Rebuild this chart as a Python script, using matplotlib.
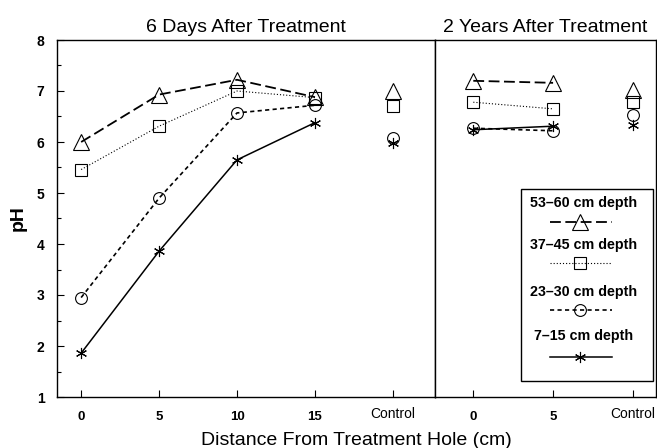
import matplotlib
matplotlib.use("Agg")
import matplotlib.pyplot as plt
from matplotlib.lines import Line2D
from matplotlib.patches import Rectangle
from matplotlib.ticker import MultipleLocator

plt.rcParams['font.family'] = ['Liberation Sans', 'DejaVu Sans']

# ---- data ----
days_labels = ['0', '5', '10', '15', 'Control']
years_labels = ['0', '5', 'Control']
series_names = ['53\u201360 cm depth', '37\u201345 cm depth', '23\u201330 cm depth', '7\u201315 cm depth']

days_53_60 = [6.00, 6.93, 7.22, 6.88, 7.00]
days_37_45 = [5.46, 6.31, 7.00, 6.87, 6.70]
days_23_30 = [2.95, 4.90, 6.57, 6.72, 6.07]
days_7_15 = [1.86, 3.86, 5.65, 6.38, 5.99]

years_53_60 = [7.20, 7.16, 7.02]
years_37_45 = [6.78, 6.65, 6.78]
years_23_30 = [6.27, 6.22, 6.53]
years_7_15 = [6.24, 6.31, 6.33]

# ---- styles ----
ASTER = (6, 2, 0)
styles = [
    dict(marker='^', ms=11.5, ls=(0, (6, 2.5)), lw=1.3),
    dict(marker='s', ms=8.5, ls=(0, (1, 1.8)), lw=0.8),
    dict(marker='o', ms=8.5, ls=(0, (2.5, 2)), lw=1.2),
    dict(marker=ASTER, ms=8, ls='-', lw=1.1),
]

fig = plt.figure(figsize=(6.57, 4.48), dpi=100)
H = 448.0
W = 657.0
bot = 1 - 397 / H
top = 1 - 40 / H
axL = fig.add_axes([57 / W, bot, (435 - 57) / W, top - bot])
axR = fig.add_axes([435 / W, bot, (656 - 435) / W, top - bot])

def draw(ax, labels, series):
    xs = list(range(len(labels)))
    for vals, st in zip(series, styles):
        ax.plot(xs[:-1], vals[:-1], color='black', linestyle=st['ls'], lw=st['lw'],
                marker=st['marker'], ms=st['ms'], mfc='none', mec='black', mew=0.8)
        ax.plot(xs[-1:], vals[-1:], color='black', linestyle='none',
                marker=st['marker'], ms=st['ms'], mfc='none', mec='black', mew=0.8)
    ax.set_xticks(xs)
    ax.set_xticklabels(labels)
    for t in ax.get_xticklabels():
        if t.get_text() == 'Control':
            t.set_fontsize(10)
            t.set_fontweight('normal')
            t.set_y(0.012)
        else:
            t.set_fontsize(9.5)
            t.set_fontweight('bold')
    ax.tick_params(axis='x', direction='in', length=5, width=0.8, pad=10)
    ax.set_ylim(1, 8)
    for s in ax.spines.values():
        s.set_linewidth(1.0)

draw(axL, days_labels, [days_53_60, days_37_45, days_23_30, days_7_15])
draw(axR, years_labels, [years_53_60, years_37_45, years_23_30, years_7_15])

axL.set_xlim(-0.31, 4.54)
axR.set_xlim(-0.48, 2.29)

axL.yaxis.set_major_locator(MultipleLocator(1))
axL.yaxis.set_minor_locator(MultipleLocator(0.5))
axL.tick_params(axis='y', which='major', direction='in', length=5, width=0.8, pad=9, labelsize=10)
axL.tick_params(axis='y', which='minor', direction='in', length=3, width=0.8)
for t in axL.get_yticklabels():
    t.set_fontweight('bold')
axR.set_yticks([])

axL.set_title('6 Days After Treatment', fontsize=14, pad=6)
axR.set_title('2 Years After Treatment', fontsize=14, pad=6)
axL.set_ylabel('pH', fontsize=14, fontweight='bold')
axL.yaxis.set_label_coords(-0.079, 0.5)
fig.text((57 + 656) / 2 / W, 1 - 440 / H, 'Distance From Treatment Hole (cm)',
         ha='center', va='center', fontsize=14)

# ---- custom legend ----
axR.add_patch(Rectangle((0.39, 0.045), 0.596, 0.538, transform=axR.transAxes,
                        fill=False, edgecolor='black', lw=1.0, zorder=5))
text_y = [0.543, 0.426, 0.294, 0.171]
samp_y = [0.490, 0.375, 0.244, 0.112]
for name, st, ty, sy in zip(series_names, styles, text_y, samp_y):
    axR.text(0.67, ty, name, transform=axR.transAxes, ha='center', va='center',
             fontsize=10.3, fontweight='bold')
    axR.add_line(Line2D([0.52, 0.80], [sy, sy], transform=axR.transAxes, color='black',
                        linestyle=st['ls'], lw=st['lw']))
    axR.add_line(Line2D([0.656], [sy], transform=axR.transAxes, color='black',
                        linestyle='none', marker=st['marker'], ms=st['ms'],
                        mfc='none', mec='black', mew=0.8))

fig.savefig('out.png', dpi=100)
